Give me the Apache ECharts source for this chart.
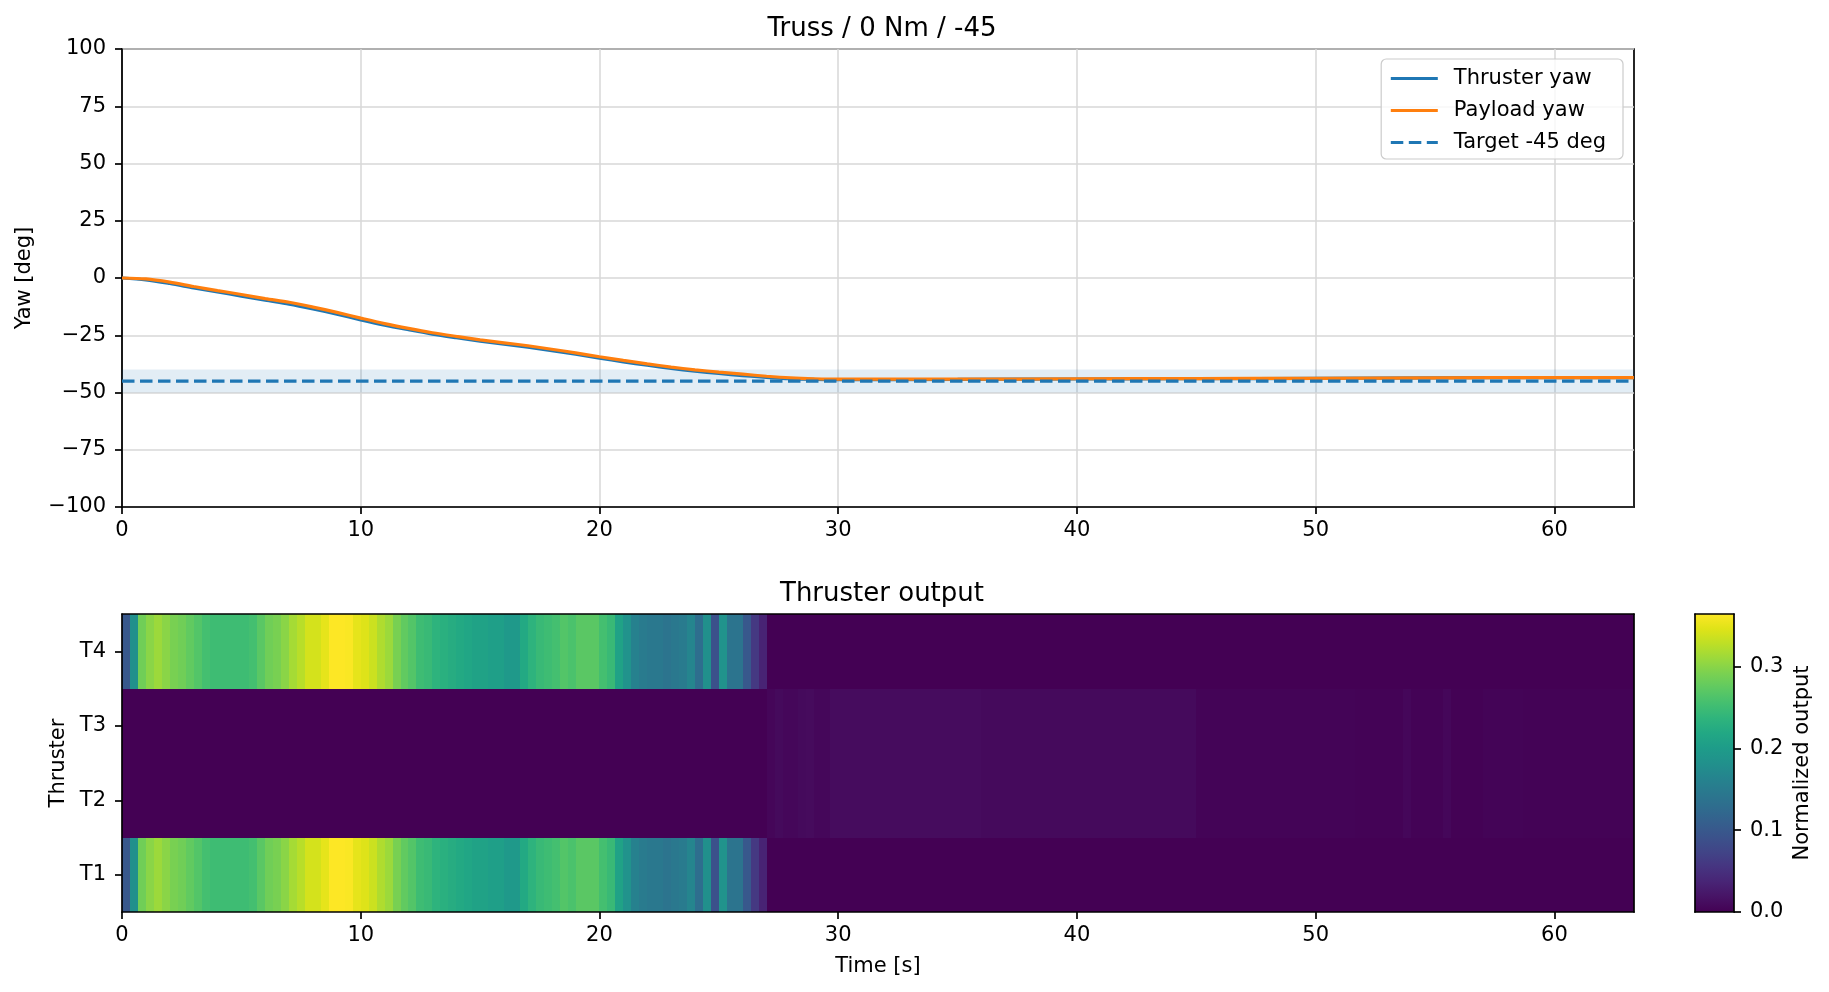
<!DOCTYPE html>
<html>
<head>
<meta charset="utf-8">
<script src="https://cdn.jsdelivr.net/npm/echarts@6/dist/echarts.min.js"></script>
<style>
html,body{margin:0;padding:0;background:#ffffff;}
#chart{width:1829px;height:992px;}
</style>
</head>
<body>
<div id="chart"></div>
<script>
// ---------------- data ----------------
const yawTime = [0,1,2,3,4,5,6,7,8,9,10,11,12,13,14,15,16,17,18,19,20,21,22,23,24,25,26,27,28,29,30,35,40,45,50,55,60,63.33];
const thrusterYaw = [0,-0.8,-2.4,-4.3,-6.1,-7.9,-9.7,-11.4,-13.5,-15.8,-18.3,-20.6,-22.6,-24.5,-26.1,-27.6,-28.9,-30.2,-31.7,-33.3,-35.0,-36.6,-38.1,-39.5,-40.7,-41.7,-42.6,-43.4,-44.0,-44.3,-44.4,-44.3,-44.1,-44.0,-43.8,-43.6,-43.5,-43.5];
const payloadYaw = [0,-0.4,-1.8,-3.7,-5.5,-7.2,-9.0,-10.6,-12.7,-15.0,-17.5,-19.9,-22.0,-23.9,-25.5,-27.0,-28.3,-29.6,-31.1,-32.7,-34.4,-36.0,-37.5,-38.9,-40.1,-41.1,-42.0,-42.9,-43.6,-44.0,-44.2,-44.2,-44.0,-43.9,-43.8,-43.6,-43.5,-43.5];
const targetYaw = -45;
const targetTolerance = 5;
const yawTicks = [-100,-75,-50,-25,0,25,50,75,100];
const timeTicks = [0,10,20,30,40,50,60];
const colorbarTicks = [0,0.1,0.2,0.3];

const thrusterNames = ['T1','T2','T3','T4'];
const sampleStep = 1/3; // seconds per heatmap column
const outT1 = [
0.10,0.18,0.285,0.30,0.31,0.30,0.29,0.285,0.275,0.265,0.255,0.25,0.25,0.25,0.25,0.25,
0.255,0.27,0.285,0.29,0.30,0.315,0.325,0.34,0.34,0.35,0.364,
0.364,0.362,0.35,0.345,0.335,0.32,0.31,0.29,0.275,0.265,0.25,0.245,0.235,0.23,0.225,0.22,0.215,0.21,0.21,0.205,0.205,0.195,0.195,0.22,0.235,0.245,0.25,0.255,
0.265,0.26,0.27,0.27,0.27,0.255,0.245,0.21,0.185,0.16,0.15,0.145,
0.145,0.14,0.145,0.15,0.165,0.13,0.18,0.09,0.185,0.14,0.14,0.10,0.06,0.035,
0,0,0,0,0,0,0,0,0,0,0,0,0,0,0,0,0,0,0,0,0,0,0,0,0,0,0,0,0,0,0,0,0,0,0,0,0,0,0,0,0,0,0,0,0,0,0,0,0,0,0,0,0,0,0,
0,0,0,0,0,0,0,0,0,0,0,0,0,0,0,0,0,0,0,0,0,0,0,0,0,0,0,0,0,0,0,0,0,0,0,0,0,0,0,0,0,0,0,0,0,0,0,0,0,0,0,0,0,0
];
const outT2 = [
0,0,0,0,0,0,0,0,0,0,0,0,0,0,0,0,0,0,0,0,0,0,0,0,0,0,0,0,0,0,0,0,0,0,0,0,0,0,0,0,
0,0,0,0,0,0,0,0,0,0,0,0,0,0,0,0,0,0,0,0,0,0,0,0,0,0,0,0,0,0,0,0,0,0,0,0,0,0,0,0,0,
0.005,0.009,0.006,0.006,0.009,0.010,0.006,0.006,
0.011,0.011,0.011,0.011,0.011,0.011,0.011,0.011,0.011,0.011,0.011,0.011,0.011,0.011,0.011,0.011,0.011,0.011,0.011,
0.009,0.009,0.009,0.009,0.009,0.009,0.009,0.009,0.009,0.009,0.009,0.009,0.009,0.009,0.009,0.009,0.009,0.009,0.009,0.009,0.009,0.009,0.009,0.009,0.009,0.009,0.009,
0.003,0.003,0.003,0.003,0.003,0.003,0.003,0.003,0.003,0.003,0.003,0.003,0.003,0.003,0.003,0.003,0.003,0.003,0.003,0.003,
0.002,0.002,0.002,0.002,0.002,0.002,0.006,0.002,0.002,0.002,0.002,0.006,
0.0015,0.0015,0.0015,0.0015,0.003,0.003,0.003,0.003,0.003,
0.0025,0.0025,0.0025,0.0025,0.0025,0.0025,0.0025,0.0025,0.0025,0.0025,0.0025,0.0025,0.0025,0.0025
];
const outT3 = [
0,0,0,0,0,0,0,0,0,0,0,0,0,0,0,0,0,0,0,0,0,0,0,0,0,0,0,0,0,0,0,0,0,0,0,0,0,0,0,0,
0,0,0,0,0,0,0,0,0,0,0,0,0,0,0,0,0,0,0,0,0,0,0,0,0,0,0,0,0,0,0,0,0,0,0,0,0,0,0,0,0,
0.005,0.009,0.006,0.006,0.009,0.010,0.006,0.006,
0.011,0.011,0.011,0.011,0.011,0.011,0.011,0.011,0.011,0.011,0.011,0.011,0.011,0.011,0.011,0.011,0.011,0.011,0.011,
0.009,0.009,0.009,0.009,0.009,0.009,0.009,0.009,0.009,0.009,0.009,0.009,0.009,0.009,0.009,0.009,0.009,0.009,0.009,0.009,0.009,0.009,0.009,0.009,0.009,0.009,0.009,
0.003,0.003,0.003,0.003,0.003,0.003,0.003,0.003,0.003,0.003,0.003,0.003,0.003,0.003,0.003,0.003,0.003,0.003,0.003,0.003,
0.002,0.002,0.002,0.002,0.002,0.002,0.006,0.002,0.002,0.002,0.002,0.006,
0.0015,0.0015,0.0015,0.0015,0.003,0.003,0.003,0.003,0.003,
0.0025,0.0025,0.0025,0.0025,0.0025,0.0025,0.0025,0.0025,0.0025,0.0025,0.0025,0.0025,0.0025,0.0025
];
const outT4 = [
0.10,0.18,0.285,0.30,0.31,0.30,0.29,0.285,0.275,0.265,0.255,0.25,0.25,0.25,0.25,0.25,
0.255,0.27,0.285,0.29,0.30,0.315,0.325,0.34,0.34,0.35,0.364,
0.364,0.362,0.35,0.345,0.335,0.32,0.31,0.29,0.275,0.265,0.25,0.245,0.235,0.23,0.225,0.22,0.215,0.21,0.21,0.205,0.205,0.195,0.195,0.22,0.235,0.245,0.25,0.255,
0.265,0.26,0.27,0.27,0.27,0.255,0.245,0.21,0.185,0.16,0.15,0.145,
0.145,0.14,0.145,0.15,0.165,0.13,0.18,0.09,0.185,0.14,0.14,0.10,0.06,0.035,
0,0,0,0,0,0,0,0,0,0,0,0,0,0,0,0,0,0,0,0,0,0,0,0,0,0,0,0,0,0,0,0,0,0,0,0,0,0,0,0,0,0,0,0,0,0,0,0,0,0,0,0,0,0,0,
0,0,0,0,0,0,0,0,0,0,0,0,0,0,0,0,0,0,0,0,0,0,0,0,0,0,0,0,0,0,0,0,0,0,0,0,0,0,0,0,0,0,0,0,0,0,0,0,0,0,0,0,0,0
];

// ---------------- build ----------------
const rows = [outT1, outT2, outT3, outT4];
const timeEnd = outT1.length * sampleStep;
const heatData = [];
rows.forEach((arr, r) => arr.forEach((v, k) => heatData.push([k * sampleStep, r, v])));
const colorMax = Math.max(...rows.map(a => Math.max(...a)));

const viridis = ['#440154','#471365','#482475','#463480','#414487','#3b528b','#355f8d','#2f6c8e','#2a788e','#25848e','#21918c','#1e9c89','#22a884','#2fb47c','#44bf70','#5ec962','#7ad151','#9bd93c','#bddf26','#dfe318','#fde725'];

const FONT = 'DejaVu Sans';
const FS = 21;
const BLACK = '#000000';
const minus = v => String(v).replace('-', '\u2212');

const spineAxis = (grid, pos) => ({
  gridIndex: grid, position: pos, type: 'value', min: 0, max: 1, z: 10,
  axisLine: {show: true, onZero: false, lineStyle: {color: BLACK, width: 1.7}},
  axisTick: {show: false}, axisLabel: {show: false}, splitLine: {show: false}
});

const chart = echarts.init(document.getElementById('chart'), null, {renderer: 'canvas'});
chart.setOption({
  backgroundColor: '#ffffff',
  animation: false,
  textStyle: {fontFamily: FONT, color: BLACK},
  title: [
    {text: 'Truss / 0 Nm / -45', left: 877, top: 11, textAlign: 'center',
     textStyle: {fontFamily: FONT, fontSize: 26, fontWeight: 'normal', color: BLACK}},
    {text: 'Thruster output', left: 877, top: 576, textAlign: 'center',
     textStyle: {fontFamily: FONT, fontSize: 26, fontWeight: 'normal', color: BLACK}}
  ],
  legend: {
    orient: 'vertical', right: 206, top: 59,
    data: ['Thruster yaw', 'Payload yaw', 'Target -45 deg'],
    itemWidth: 47, itemHeight: 14, itemGap: 11,
    padding: [9, 17, 6, 8],
    borderColor: '#cccccc', borderWidth: 1.2, borderRadius: 5,
    backgroundColor: 'rgba(255,255,255,0.8)',
    itemStyle: {opacity: 0, borderWidth: 0},
    lineStyle: {width: 3.2},
    textStyle: {fontFamily: FONT, fontSize: FS, color: BLACK, padding: [0, 0, 0, 11]}
  },
  grid: [
    {left: 122, top: 49, width: 1512, height: 458, show: true, borderColor: BLACK, borderWidth: 1.7},
    {left: 122, top: 614, width: 1512, height: 298},
    {left: 1695, top: 614, width: 39, height: 298}
  ],
  visualMap: {
    type: 'continuous', show: false, min: 0, max: colorMax, dimension: 2, seriesIndex: 4,
    inRange: {color: viridis}
  },
  xAxis: [
    {gridIndex: 0, type: 'value', min: 0, max: timeEnd,
     axisLine: {show: true, onZero: false, lineStyle: {color: BLACK, width: 1.7}},
     axisTick: {show: true, length: 7, lineStyle: {color: BLACK, width: 1.7}, customValues: timeTicks},
     axisLabel: {fontFamily: FONT, fontSize: FS, color: BLACK, margin: 13, customValues: timeTicks},
     splitLine: {show: true, lineStyle: {color: '#d7d7d7', width: 1.5}}},
    {gridIndex: 1, type: 'value', min: 0, max: timeEnd, z: 10,
     name: 'Time [s]', nameLocation: 'middle', nameGap: 44,
     nameTextStyle: {fontFamily: FONT, fontSize: FS, color: BLACK},
     axisLine: {show: true, onZero: false, lineStyle: {color: BLACK, width: 1.7}},
     axisTick: {show: true, length: 7, lineStyle: {color: BLACK, width: 1.7}, customValues: timeTicks},
     axisLabel: {fontFamily: FONT, fontSize: FS, color: BLACK, margin: 13, customValues: timeTicks},
     splitLine: {show: false}},
    spineAxis(1, 'top'),
    spineAxis(2, 'bottom'),
    spineAxis(2, 'top')
  ],
  yAxis: [
    {gridIndex: 0, type: 'value', min: -100, max: 100, interval: 25,
     name: 'Yaw [deg]', nameLocation: 'middle', nameGap: 87, nameRotate: 90,
     nameTextStyle: {fontFamily: FONT, fontSize: FS, color: BLACK},
     axisLine: {show: true, onZero: false, lineStyle: {color: BLACK, width: 1.7}},
     axisTick: {show: true, length: 7, lineStyle: {color: BLACK, width: 1.7}},
     axisLabel: {fontFamily: FONT, fontSize: FS, color: BLACK, margin: 16, formatter: minus},
     splitLine: {show: true, lineStyle: {color: '#d7d7d7', width: 1.5}}},
    {gridIndex: 1, type: 'category', data: thrusterNames, z: 10,
     name: 'Thruster', nameLocation: 'middle', nameGap: 53, nameRotate: 90,
     nameTextStyle: {fontFamily: FONT, fontSize: FS, color: BLACK},
     axisLine: {show: true, onZero: false, lineStyle: {color: BLACK, width: 1.7}},
     axisTick: {show: true, length: 7, alignWithLabel: true, lineStyle: {color: BLACK, width: 1.7}},
     axisLabel: {fontFamily: FONT, fontSize: FS, color: BLACK, margin: 16},
     splitLine: {show: false}},
    spineAxis(1, 'right'),
    {gridIndex: 2, type: 'value', position: 'right', min: 0, max: colorMax, z: 10,
     name: 'Normalized output', nameLocation: 'middle', nameGap: 58, nameRotate: 90,
     nameTextStyle: {fontFamily: FONT, fontSize: FS, color: BLACK},
     axisLine: {show: true, onZero: false, lineStyle: {color: BLACK, width: 1.7}},
     axisTick: {show: true, length: 7, lineStyle: {color: BLACK, width: 1.7}, customValues: colorbarTicks},
     axisLabel: {fontFamily: FONT, fontSize: FS, color: BLACK, margin: 16, customValues: colorbarTicks,
                 formatter: v => v.toFixed(1)},
     splitLine: {show: false}},
    spineAxis(2, 'left')
  ],
  series: [
    {name: 'band', type: 'line', xAxisIndex: 0, yAxisIndex: 0, data: [], silent: true,
     markArea: {silent: true, itemStyle: {color: 'rgba(31,119,180,0.13)'},
                data: [[{yAxis: targetYaw - targetTolerance}, {yAxis: targetYaw + targetTolerance}]]}},
    {name: 'Thruster yaw', type: 'line', xAxisIndex: 0, yAxisIndex: 0, symbol: 'none', smooth: 0.3,
     color: '#1f77b4', lineStyle: {color: '#1f77b4', width: 3.2},
     data: yawTime.map((t, i) => [t, thrusterYaw[i]])},
    {name: 'Payload yaw', type: 'line', xAxisIndex: 0, yAxisIndex: 0, symbol: 'none', smooth: 0.3,
     color: '#ff7f0e', lineStyle: {color: '#ff7f0e', width: 3.2},
     data: yawTime.map((t, i) => [t, payloadYaw[i]])},
    {name: 'Target -45 deg', type: 'line', xAxisIndex: 0, yAxisIndex: 0, symbol: 'none',
     color: '#1f77b4', lineStyle: {color: '#1f77b4', width: 3.2, type: [12.5, 5.5]},
     data: [[0, targetYaw], [timeEnd, targetYaw]]},
    {name: 'heat', type: 'custom', xAxisIndex: 1, yAxisIndex: 1, clip: true,
     data: heatData,
     renderItem: (params, api) => {
       const t0 = api.value(0), r = api.value(1);
       const p0 = api.coord([t0, r]);
       const p1 = api.coord([t0 + sampleStep, r]);
       const h = api.size([0, 1])[1];
       const x0 = Math.round(p0[0]), x1 = Math.round(p1[0]);
       const y0 = Math.round(p0[1] - h / 2), y1 = Math.round(p0[1] + h / 2);
       return {type: 'rect',
               shape: {x: x0, y: y0, width: x1 - x0, height: y1 - y0},
               style: {fill: api.visual('color'), lineWidth: 0}};
     }},
    {name: 'colorbar', type: 'custom', xAxisIndex: 3, yAxisIndex: 3, silent: true,
     data: [[0, 0]],
     renderItem: (params, api) => {
       const top = api.coord([0, colorMax]);
       const bot = api.coord([1, 0]);
       return {type: 'rect',
               shape: {x: top[0], y: top[1], width: bot[0] - top[0], height: bot[1] - top[1]},
               style: {fill: new echarts.graphic.LinearGradient(0, 1, 0, 0,
                 viridis.map((c, i) => ({offset: i / (viridis.length - 1), color: c})))}};
     }}
  ]
});
</script>
</body>
</html>
